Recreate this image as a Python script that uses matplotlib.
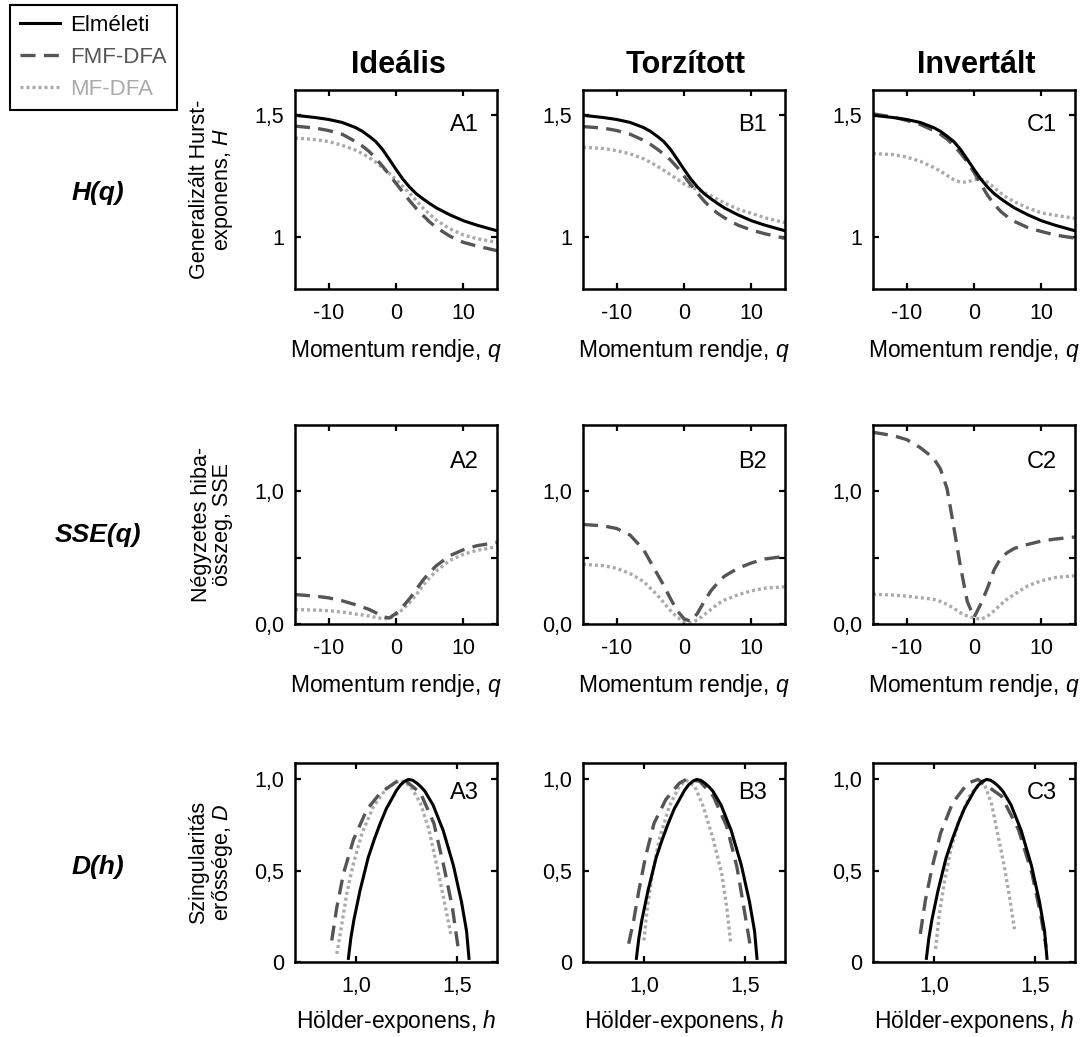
import matplotlib
matplotlib.use("Agg")
import matplotlib.pyplot as plt
from matplotlib.lines import Line2D

plt.rcParams['font.family'] = ['Liberation Sans', 'DejaVu Sans']
plt.rcParams['mathtext.fontset'] = 'custom'
plt.rcParams['mathtext.rm'] = 'Liberation Sans'
plt.rcParams['mathtext.it'] = 'Liberation Sans:italic'
plt.rcParams['mathtext.bf'] = 'Liberation Sans:bold'
plt.rcParams['axes.unicode_minus'] = False

# ---- data ----
columns = ['Ideális', 'Torzított', 'Invertált']
col_tags = ['A', 'B', 'C']

# moment order q, shared by rows 1 and 2
q = [-15, -12, -10, -8, -6, -5, -4, -3, -2, -1, 0, 1, 2, 3, 4, 5, 6, 8, 10, 12, 15]

# row 1: generalised Hurst exponent H(q)
H_theory = [1.497, 1.488, 1.48, 1.468, 1.447, 1.432, 1.412, 1.39, 1.358, 1.318, 1.277,
            1.238, 1.205, 1.178, 1.157, 1.138, 1.12, 1.092, 1.068, 1.05, 1.027]
H_fmf = [
    [1.453, 1.445, 1.435, 1.42, 1.39, 1.372, 1.35, 1.322, 1.29, 1.255, 1.22,
     1.185, 1.15, 1.118, 1.09, 1.063, 1.04, 1.005, 0.98, 0.965, 0.946],
    [1.451, 1.445, 1.435, 1.42, 1.395, 1.379, 1.36, 1.339, 1.315, 1.285, 1.25,
     1.215, 1.18, 1.148, 1.12, 1.098, 1.08, 1.05, 1.03, 1.015, 0.996],
    [1.503, 1.49, 1.476, 1.46, 1.435, 1.42, 1.40, 1.374, 1.343, 1.307, 1.265,
     1.218, 1.172, 1.135, 1.105, 1.083, 1.065, 1.04, 1.024, 1.01, 0.997],
]
H_mf = [
    [1.405, 1.398, 1.39, 1.375, 1.355, 1.341, 1.325, 1.306, 1.285, 1.261, 1.235,
     1.208, 1.18, 1.15, 1.12, 1.094, 1.07, 1.035, 1.01, 0.995, 0.98],
    [1.367, 1.362, 1.353, 1.34, 1.32, 1.306, 1.29, 1.273, 1.255, 1.237, 1.218,
     1.205, 1.195, 1.182, 1.17, 1.155, 1.14, 1.115, 1.098, 1.08, 1.06],
    [1.341, 1.337, 1.327, 1.31, 1.285, 1.27, 1.252, 1.235, 1.225, 1.225, 1.235,
     1.238, 1.225, 1.203, 1.18, 1.16, 1.145, 1.12, 1.10, 1.09, 1.078],
]

# row 2: sum of squared errors SSE(q)
SSE_fmf = [
    [.222, .21, .197, .175, .145, .128, .11, .085, .055, .045, .08, .13, .19, .26, .33, .39, .44, .515, .56, .59, .615],
    [.75, .74, .72, .67, .56, .47, .38, .29, .19, .10, .04, .02, .08, .17, .25, .31, .36, .42, .46, .49, .51],
    [1.445, 1.42, 1.39, 1.33, 1.25, 1.17, 1.02, .73, .43, .17, .05, .15, .27, .41, .50, .54, .57, .60, .625, .64, .656],
]
SSE_mf = [
    [.109, .105, .10, .09, .075, .068, .06, .05, .04, .04, .07, .11, .16, .22, .29, .35, .40, .48, .525, .555, .583],
    [.45, .44, .42, .38, .32, .27, .22, .16, .10, .05, .02, .01, .03, .07, .11, .15, .18, .22, .25, .27, .28],
    [.224, .218, .21, .198, .186, .17, .148, .118, .084, .06, .046, .035, .058, .10, .148, .19, .224, .288, .326, .35, .364],
]

# row 3: singularity spectrum D(h)
h_theory = [0.963, 0.975, 0.99, 1.02, 1.06, 1.09, 1.12, 1.15, 1.18, 1.20, 1.22, 1.24, 1.26,
            1.28, 1.30, 1.32, 1.34, 1.38, 1.43, 1.48, 1.52, 1.545, 1.557]
D_theory = [0.02, 0.13, 0.23, 0.39, 0.57, 0.67, 0.76, 0.84, 0.90, 0.94, 0.97, 0.99, 1.0,
            0.995, 0.98, 0.96, 0.935, 0.86, 0.72, 0.53, 0.33, 0.17, 0.02]
h_fmf = [
    [0.881, 0.906, 0.939, 0.988, 1.054, 1.12, 1.203, 1.236, 1.318, 1.384, 1.434, 1.475, 1.508],
    [0.925, 0.95, 0.975, 1.008, 1.05, 1.108, 1.175, 1.208, 1.275, 1.342, 1.408, 1.458, 1.492, 1.525],
    [0.933, 0.958, 0.992, 1.033, 1.092, 1.167, 1.217, 1.333, 1.417, 1.483, 1.525, 1.553],
]
D_fmf = [
    [0.118, 0.30, 0.485, 0.67, 0.835, 0.926, 0.99, 1.0, 0.926, 0.76, 0.52, 0.30, 0.044],
    [0.10, 0.23, 0.39, 0.577, 0.76, 0.89, 0.98, 1.0, 0.99, 0.908, 0.743, 0.522, 0.30, 0.081],
    [0.154, 0.338, 0.522, 0.706, 0.871, 0.98, 1.0, 0.908, 0.724, 0.485, 0.265, 0.08],
]
h_mf = [
    [0.906, 0.931, 0.955, 0.988, 1.03, 1.087, 1.153, 1.219, 1.269, 1.318, 1.36, 1.40, 1.434, 1.467],
    [1.0, 1.017, 1.042, 1.075, 1.125, 1.175, 1.208, 1.25, 1.292, 1.342, 1.383, 1.408, 1.428],
    [1.008, 1.025, 1.05, 1.083, 1.125, 1.175, 1.225, 1.25, 1.283, 1.317, 1.35, 1.375, 1.397],
]
D_mf = [
    [0.044, 0.21, 0.375, 0.54, 0.706, 0.853, 0.954, 0.996, 0.963, 0.87, 0.724, 0.52, 0.34, 0.154],
    [0.118, 0.30, 0.485, 0.67, 0.853, 0.963, 0.996, 0.963, 0.853, 0.67, 0.485, 0.30, 0.10],
    [0.072, 0.246, 0.43, 0.614, 0.78, 0.908, 0.98, 0.97, 0.87, 0.687, 0.504, 0.338, 0.18],
]

# ---- styles ----
solid = dict(color='black', lw=2.2, ls='-')
dashed = dict(color='#555555', lw=2.4, ls=(0, (4.5, 2.5)))
dotted = dict(color='#aaaaaa', lw=2.4, ls=(0, (0.9, 0.9)))

W, Hpx = 1089, 1037
fig = plt.figure(figsize=(W / 100, Hpx / 100), dpi=100)

col_x = [295, 583, 873]
row_y = [90, 425, 763]
ax_w, ax_h = 202, 199


def make_ax(x0, y0):
    ax = fig.add_axes([x0 / W, 1 - (y0 + ax_h) / Hpx, ax_w / W, ax_h / Hpx])
    for s in ax.spines.values():
        s.set_linewidth(1.8)
    ax.tick_params(direction='in', top=True, right=True, length=4, width=1.6,
                   labelsize=15.5, pad=8)
    ax.tick_params(axis='x', pad=10)
    return ax


def ftext(x, y, s, **kw):
    fig.text(x / W, 1 - y / Hpx, s, **kw)


for c in range(3):
    # row 1
    ax = make_ax(col_x[c], row_y[0])
    ax.plot(q, H_mf[c], **dotted)
    ax.plot(q, H_fmf[c], **dashed)
    ax.plot(q, H_theory, **solid)
    ax.set_xlim(-15, 15)
    ax.set_ylim(0.79, 1.6)
    ax.set_xticks([-10, 0, 10])
    ax.set_yticks([1, 1.5])
    ax.set_yticklabels(['1', '1,5'])
    ax.set_xlabel('Momentum rendje, $q$', fontsize=16.5, va='center')
    ax.xaxis.set_label_coords(0.5, -0.31)
    ax.text(0.91, 0.825, col_tags[c] + '1', transform=ax.transAxes,
            ha='right', va='center', fontsize=17)

    # row 2
    ax = make_ax(col_x[c], row_y[1])
    ax.plot(q, SSE_mf[c], **dotted)
    ax.plot(q, SSE_fmf[c], **dashed)
    ax.set_xlim(-15, 15)
    ax.set_ylim(0, 1.5)
    ax.set_xticks([-10, 0, 10])
    ax.set_yticks([0, 0.5, 1.0])
    ax.set_yticklabels(['0,0', '', '1,0'])
    ax.set_xlabel('Momentum rendje, $q$', fontsize=16.5, va='center')
    ax.xaxis.set_label_coords(0.5, -0.31)
    ax.text(0.91, 0.815, col_tags[c] + '2', transform=ax.transAxes,
            ha='right', va='center', fontsize=17)

    # row 3
    ax = make_ax(col_x[c], row_y[2])
    ax.plot(h_mf[c], D_mf[c], **dotted)
    ax.plot(h_fmf[c], D_fmf[c], **dashed)
    ax.plot(h_theory, D_theory, **solid)
    ax.set_xlim(0.7, 1.695)
    ax.set_ylim(0, 1.09)
    ax.set_xticks([1.0, 1.5])
    ax.set_xticklabels(['1,0', '1,5'])
    ax.set_yticks([0, 0.5, 1.0])
    ax.set_yticklabels(['0', '0,5', '1,0'])
    ax.set_xlabel('Hölder-exponens, $h$', fontsize=16.5, va='center')
    ax.xaxis.set_label_coords(0.5, -0.30)
    ax.text(0.91, 0.85, col_tags[c] + '3', transform=ax.transAxes,
            ha='right', va='center', fontsize=17)

    ftext(col_x[c] + ax_w / 2 + 2, 65, columns[c], ha='center', va='center',
          fontsize=22, fontweight='bold')

# y labels of the left column
ylabels = ['Generalizált Hurst-\nexponens, $H$', 'Négyzetes hiba-\nösszeg, SSE',
           'Szingularitás\nerőssége, $D$']
row_names = ['H(q)', 'SSE(q)', 'D(h)']
row_name_y = [193, 535, 867]
for r in range(3):
    ftext(212, row_y[r] + ax_h / 2, ylabels[r], rotation=90, ha='center',
          va='center', fontsize=15.5, multialignment='center', linespacing=1.05)
    ftext(98, row_name_y[r], row_names[r], ha='center', va='center',
          fontsize=19, fontweight='bold', fontstyle='italic')

handles = [Line2D([], [], **solid), Line2D([], [], **dashed), Line2D([], [], **dotted)]
leg = fig.legend(handles, ['Elméleti', 'FMF-DFA', 'MF-DFA'], loc='upper left',
                 bbox_to_anchor=(10 / W, 1 - 5 / Hpx), borderaxespad=0,
                 fontsize=16, frameon=True, fancybox=False, framealpha=1,
                 edgecolor='black', handlelength=1.8, handletextpad=0.45,
                 labelspacing=0.5, borderpad=0.45,
                 labelcolor=['black', '#555555', '#aaaaaa'])
leg.get_frame().set_linewidth(1.5)

fig.savefig('out.png', dpi=100)
